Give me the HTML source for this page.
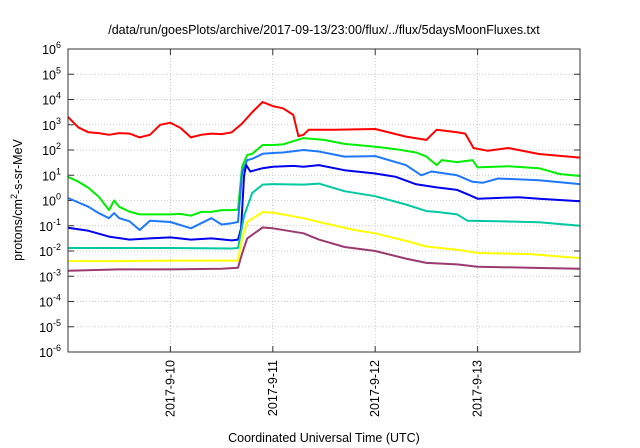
<!DOCTYPE html>
<html><head><meta charset="utf-8"><style>
body{margin:0;background:#fff;}
svg{display:block;font-family:"Liberation Sans",sans-serif;}
</style></head><body>
<svg id="chart" width="640" height="448" viewBox="0 0 640 448" xmlns="http://www.w3.org/2000/svg">
<rect width="640" height="448" fill="#fff"/>
<text x="324" y="34" text-anchor="middle" font-size="12.5" fill="#000">/data/run/goesPlots/archive/2017-09-13/23:00/flux/../flux/5daysMoonFluxes.txt</text>
<g id="grid"></g>
<g id="axes"></g>
<g id="series"></g>
<rect x="68" y="49" width="512" height="303" fill="none" stroke="#333" stroke-width="1"/>
<text transform="translate(22,200) rotate(-90)" text-anchor="middle" font-size="12.5">protons/cm<tspan dy="-5" font-size="9">2</tspan><tspan dy="5">-s-sr-MeV</tspan></text>
<text x="324" y="442" text-anchor="middle" font-size="12.5">Coordinated Universal Time (UTC)</text>
</svg>
<script>
const dayTicks = [10, 11, 12, 13];
const dayLabels = ["2017-9-10", "2017-9-11", "2017-9-12", "2017-9-13"];
const decadeTicks = [-6,-5,-4,-3,-2,-1,0,1,2,3,4,5,6];
const seriesNames = ["red","green","lightblue","blue","cyan","yellow","purple"];
const seriesColors = ["#ff0000","#00ee00","#1e78ff","#0000ee","#00c8a0","#ffff00","#9b3a6e"];
const redT = [9.0,9.1,9.2,9.3,9.4,9.5,9.6,9.7,9.8,9.9,10.0,10.1,10.2,10.3,10.4,10.5,10.6,10.7,10.8,10.9,11.0,11.1,11.2,11.25,11.3,11.35,11.6,12.0,12.3,12.5,12.6,12.8,12.88,12.96,13.1,13.3,13.6,14.0];
const redV = [3.31,2.9,2.7,2.67,2.6,2.67,2.65,2.5,2.6,3.0,3.08,2.87,2.5,2.6,2.65,2.63,2.7,3.05,3.5,3.9,3.74,3.65,3.39,2.55,2.6,2.8,2.8,2.83,2.53,2.4,2.8,2.7,2.65,2.08,1.97,2.08,1.84,1.7];
const greenT = [9.0,9.1,9.2,9.3,9.4,9.45,9.5,9.6,9.7,9.8,9.9,10.0,10.1,10.2,10.3,10.4,10.5,10.6,10.66,10.7,10.75,10.8,10.9,11.0,11.1,11.2,11.3,11.5,11.7,11.9,12.0,12.2,12.4,12.5,12.6,12.65,12.8,12.95,13.0,13.3,13.6,13.8,14.0];
const greenV = [0.94,0.75,0.5,0.15,-0.38,0.0,-0.25,-0.44,-0.55,-0.55,-0.55,-0.55,-0.53,-0.6,-0.45,-0.45,-0.38,-0.38,-0.36,1.34,1.8,1.85,2.2,2.2,2.22,2.35,2.47,2.4,2.24,2.17,2.13,2.03,1.9,1.74,1.4,1.6,1.52,1.6,1.31,1.36,1.28,1.05,0.97];
const lblueT = [9.0,9.2,9.3,9.4,9.45,9.5,9.6,9.7,9.8,10.0,10.2,10.4,10.5,10.6,10.66,10.7,10.75,10.8,10.9,11.0,11.1,11.3,11.45,11.7,12.0,12.3,12.45,12.55,12.8,12.95,13.05,13.2,13.6,14.0];
const lblueV = [0.1,-0.25,-0.5,-0.7,-0.5,-0.7,-0.82,-1.17,-0.8,-0.85,-1.1,-0.7,-0.95,-0.9,-0.85,1.1,1.6,1.65,1.85,1.88,1.9,2.0,1.94,1.74,1.76,1.4,1.0,1.15,1.0,0.74,0.7,0.87,0.8,0.65];
const blueT = [9.0,9.2,9.4,9.6,9.8,10.0,10.2,10.4,10.6,10.66,10.69,10.72,10.74,10.78,10.9,11.0,11.2,11.3,11.45,11.7,12.0,12.2,12.4,12.6,12.8,12.9,13.0,13.4,13.6,14.0];
const blueV = [-1.08,-1.2,-1.43,-1.55,-1.5,-1.46,-1.55,-1.5,-1.58,-1.55,-1.1,1.0,1.4,1.15,1.28,1.34,1.37,1.34,1.4,1.2,1.07,0.94,0.64,0.52,0.42,0.25,0.07,0.13,0.07,-0.03];
const cyanT = [9.0,9.5,10.0,10.6,10.66,10.72,10.8,10.9,11.0,11.3,11.45,11.7,12.0,12.3,12.5,12.6,12.8,12.9,13.2,13.6,14.0];
const cyanV = [-1.88,-1.88,-1.88,-1.9,-1.88,-0.6,0.3,0.63,0.65,0.63,0.67,0.37,0.17,-0.16,-0.42,-0.45,-0.55,-0.8,-0.82,-0.86,-1.0];
const yellowT = [9.0,9.5,10.0,10.5,10.66,10.7,10.75,10.9,11.0,11.3,11.45,11.8,12.0,12.3,12.5,12.8,13.0,13.5,14.0];
const yellowV = [-2.4,-2.4,-2.38,-2.38,-2.38,-1.5,-0.85,-0.46,-0.48,-0.7,-0.85,-1.17,-1.3,-1.6,-1.82,-1.95,-2.08,-2.12,-2.28];
const purpleT = [9.0,9.5,10.0,10.5,10.66,10.7,10.75,10.9,11.0,11.3,11.45,11.7,12.0,12.3,12.5,12.8,13.0,13.5,14.0];
const purpleV = [-2.78,-2.73,-2.73,-2.7,-2.66,-2.1,-1.5,-1.07,-1.1,-1.3,-1.55,-1.84,-2.0,-2.3,-2.47,-2.53,-2.62,-2.66,-2.7];
const allT = [redT,greenT,lblueT,blueT,cyanT,yellowT,purpleT];
const allV = [redV,greenV,lblueV,blueV,cyanV,yellowV,purpleV];

const X0=68,X1=580,Y0=49,Y1=352,TMIN=9,TMAX=14,LMIN=-6,LMAX=6;
const xs = t => X0 + (t-TMIN)/(TMAX-TMIN)*(X1-X0);
const ys = l => Y1 - (l-LMIN)/(LMAX-LMIN)*(Y1-Y0);
const NS="http://www.w3.org/2000/svg";
const grid=document.getElementById('grid'), axes=document.getElementById('axes'), ser=document.getElementById('series');
function mk(tag, parent){const e=document.createElementNS(NS,tag);parent.appendChild(e);return e;}

decadeTicks.forEach(d=>{
  const y=ys(d);
  if(d>LMIN && d<LMAX){
    const g=mk('line',grid);
    
    
    g.setAttribute('x1',X0);g.setAttribute('x2',X1);g.setAttribute('y1',y);g.setAttribute('y2',y);
    g.setAttribute('stroke','#bbb');g.setAttribute('stroke-dasharray','1,2');g.setAttribute('stroke-width','0.8');
  }
  [[X0,X0+6],[X1-6,X1]].forEach(p=>{
    const tk=mk('line',axes);
    
    
    tk.setAttribute('x1',p[0]);tk.setAttribute('x2',p[1]);tk.setAttribute('y1',y);tk.setAttribute('y2',y);tk.setAttribute('stroke','#333');
  });
  const tx=mk('text',axes);
  
  
  tx.setAttribute('x',61);tx.setAttribute('y',y+5);tx.setAttribute('text-anchor','end');tx.setAttribute('font-size','12.5');
  tx.innerHTML='10<tspan dy="-6" font-size="9">'+d+'</tspan>';
});
dayTicks.forEach((d,i)=>{
  const x=xs(d);
  const g=mk('line',grid);
  
  
  g.setAttribute('x1',x);g.setAttribute('x2',x);g.setAttribute('y1',Y0);g.setAttribute('y2',Y1);
  g.setAttribute('stroke','#bbb');g.setAttribute('stroke-dasharray','1,2');g.setAttribute('stroke-width','0.8');
  [[Y0,Y0+6],[Y1-6,Y1]].forEach(p=>{
    const tk=mk('line',axes);
    
    
    tk.setAttribute('x1',x);tk.setAttribute('x2',x);tk.setAttribute('y1',p[0]);tk.setAttribute('y2',p[1]);tk.setAttribute('stroke','#333');
  });
  const tx=mk('text',axes);
  
  
  tx.setAttribute('transform','translate('+(x+4)+',360) rotate(-90)');
  tx.setAttribute('text-anchor','end');tx.setAttribute('font-size','12.5');
  tx.textContent=dayLabels[i];
});
allT.forEach((T,si)=>{
  const p=mk('polyline',ser);
  
  
  p.setAttribute('points',T.map((t,j)=>xs(t).toFixed(1)+','+ys(allV[si][j]).toFixed(1)).join(' '));
  p.setAttribute('fill','none');p.setAttribute('stroke',seriesColors[si]);p.setAttribute('stroke-width','2');p.setAttribute('stroke-linejoin','round');
});
</script>
</body></html>
